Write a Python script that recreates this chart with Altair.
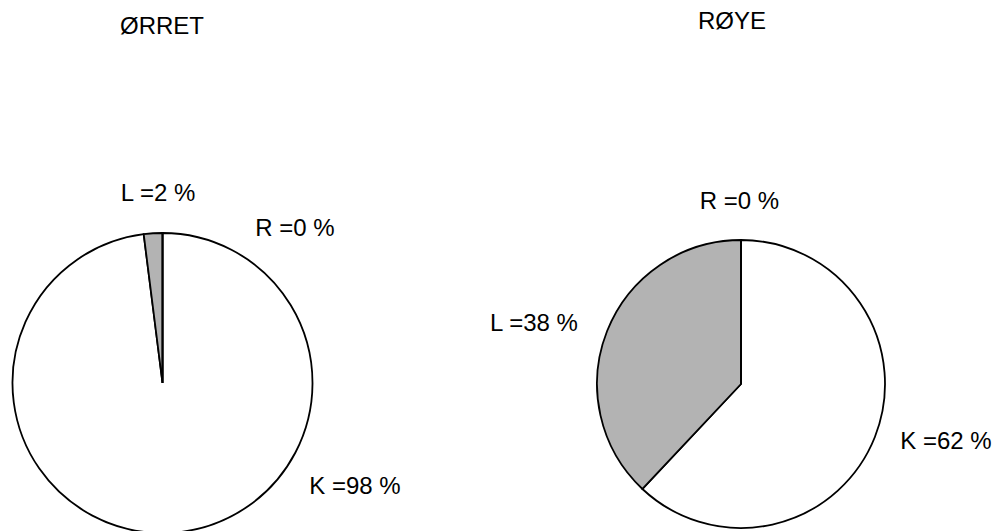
import altair as alt
import pandas as pd

# ---- data ----
pies = ["ØRRET", "RØYE"]
categories = ["K", "L", "R"]
orret_values = [98, 2, 0]
roye_values = [62, 38, 0]

rows = []
for pie, vals in zip(pies, [orret_values, roye_values]):
    for i, (c, v) in enumerate(zip(categories, vals)):
        rows.append({"pie": pie, "cat": c, "value": v, "order": i,
                     "label": f"{c} ={v} %"})
df = pd.DataFrame(rows)
titles = pd.DataFrame({"pie": pies})

# ---- layout (pixels inside the chart) ----
pie_layout = {
    "ØRRET": {"cx": 154.5, "cy": 375, "r": 150, "title": (154, 18.5)},
    "RØYE": {"cx": 733, "cy": 376, "r": 144, "title": (724, 13.5)},
}
label_pos = {
    ("ØRRET", "L"): (150, 186),
    ("ØRRET", "R"): (287, 221),
    ("ØRRET", "K"): (347, 478.5),
    ("RØYE", "R"): (731.5, 194),
    ("RØYE", "L"): (526, 316),
    ("RØYE", "K"): (938, 434),
}
FONT = "Liberation Sans"
FS = 24

color_scale = alt.Scale(domain=categories, range=["white", "#b3b3b3", "white"])

layers = []
for pie in pies:
    lay = pie_layout[pie]
    arc = (
        alt.Chart(df)
        .transform_filter(alt.datum.pie == pie)
        .mark_arc(radius=lay["r"], stroke="black", strokeWidth=1.8)
        .encode(
            theta=alt.Theta("value:Q", stack=True),
            color=alt.Color("cat:N", scale=color_scale, legend=None),
            order=alt.Order("order:Q"),
            x=alt.value(lay["cx"]),
            y=alt.value(lay["cy"]),
        )
    )
    layers.append(arc)
    tx, ty = lay["title"]
    title = (
        alt.Chart(titles)
        .transform_filter(alt.datum.pie == pie)
        .mark_text(font=FONT, fontSize=FS, color="black", align="center", baseline="middle")
        .encode(text="pie:N", x=alt.value(tx), y=alt.value(ty))
    )
    layers.append(title)

for (pie, cat), (lx, ly) in label_pos.items():
    t = (
        alt.Chart(df)
        .transform_filter((alt.datum.pie == pie) & (alt.datum.cat == cat))
        .mark_text(font=FONT, fontSize=FS, color="black", align="center", baseline="middle")
        .encode(text="label:N", x=alt.value(lx), y=alt.value(ly))
    )
    layers.append(t)

chart = (
    alt.layer(*layers)
    .resolve_scale(theta="independent")
    .properties(width=985, height=525, autosize="none", padding=0, background="white")
    .configure_view(strokeWidth=0, stroke="transparent")
)

chart.save("out.html", embed_options={"renderer": "svg", "actions": False})
